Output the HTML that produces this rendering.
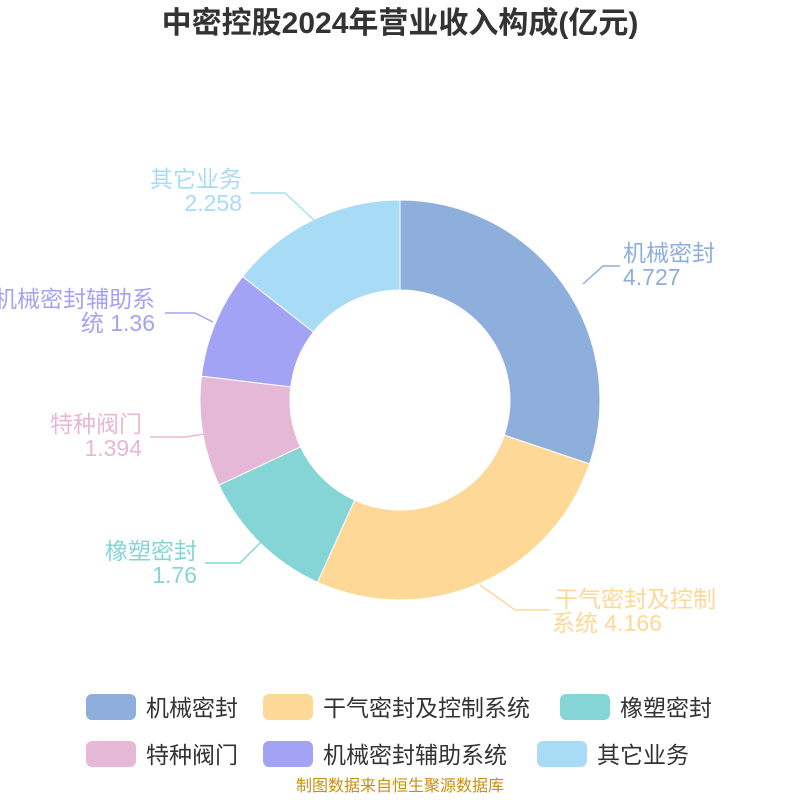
<!DOCTYPE html>
<html><head><meta charset="utf-8"><style>
body{margin:0;background:#fff;}
svg{display:block;font-family:"Liberation Sans","Noto Sans CJK SC",sans-serif;}
</style></head><body>
<svg id="s" width="800" height="800" viewBox="0 0 800 800">
<text x="400" y="33" text-anchor="middle" font-size="30" font-weight="bold" fill="#333">中密控股2024年营业收入构成(亿元)</text>
<g id="pie"></g>
<g fill="none" stroke-width="1.5">
<polyline points="583,284 603,266 620,266" stroke="#8eaedb"/>
<polyline points="480,585 515,610 550,610" stroke="#fdd897"/>
<polyline points="263,540 240,563 205,563" stroke="#85d5d7"/>
<polyline points="218,432 185,437 150,437" stroke="#e6b8d7"/>
<polyline points="213,322 195,313 165,313" stroke="#a3a3f5"/>
<polyline points="314,220 285,193 250,193" stroke="#a8dcf6"/>
</g>
<g font-size="23">
<text x="623" y="261" fill="#8eaedb">机械密封</text><text x="623" y="285" fill="#8eaedb">4.727</text>
<text x="555" y="607" fill="#fdd897">干气密封及控制</text><text x="552" y="631" fill="#fdd897">系统 4.166</text>
<text x="197" y="559" text-anchor="end" fill="#85d5d7">橡塑密封</text><text x="197" y="583" text-anchor="end" fill="#85d5d7">1.76</text>
<text x="142" y="432" text-anchor="end" fill="#e6b8d7">特种阀门</text><text x="142" y="456" text-anchor="end" fill="#e6b8d7">1.394</text>
<text x="155" y="307" text-anchor="end" fill="#a3a3f5">机械密封辅助系</text><text x="155" y="331" text-anchor="end" fill="#a3a3f5">统 1.36</text>
<text x="242" y="187" text-anchor="end" fill="#a8dcf6">其它业务</text><text x="242" y="211" text-anchor="end" fill="#a8dcf6">2.258</text>
</g>
<g font-size="23" fill="#333">
<rect x="86" y="694" width="50" height="26" rx="6" fill="#8eaedb"/><text x="146" y="716">机械密封</text>
<rect x="263" y="694" width="50" height="26" rx="6" fill="#fdd897"/><text x="323" y="716">干气密封及控制系统</text>
<rect x="560" y="694" width="50" height="26" rx="6" fill="#85d5d7"/><text x="620" y="716">橡塑密封</text>
<rect x="86" y="741" width="50" height="26" rx="6" fill="#e6b8d7"/><text x="146" y="763">特种阀门</text>
<rect x="263" y="741" width="50" height="26" rx="6" fill="#a3a3f5"/><text x="323" y="763">机械密封辅助系统</text>
<rect x="537" y="741" width="50" height="26" rx="6" fill="#a8dcf6"/><text x="597" y="763">其它业务</text>
</g>
<text x="400" y="791" text-anchor="middle" font-size="16" fill="#c8900f">制图数据来自恒生聚源数据库</text>
</svg>
<script>
var v=[4.727,4.166,1.76,1.394,1.36,2.258],c=["#8eaedb","#fdd897","#85d5d7","#e6b8d7","#a3a3f5","#a8dcf6"];
var t=v.reduce((a,b)=>a+b),a0=0,R=200,r=110,cx=400,cy=400,h="";
function p(a,rr){return (cx+rr*Math.sin(a)).toFixed(2)+","+(cy-rr*Math.cos(a)).toFixed(2);}
v.forEach(function(x,i){var a1=a0+x/t*2*Math.PI,l=(a1-a0)>Math.PI?1:0;
h+='<path fill="'+c[i]+'" stroke="#fff" stroke-width="1" d="M'+p(a0,R)+' A'+R+','+R+' 0 '+l+' 1 '+p(a1,R)+' L'+p(a1,r)+' A'+r+','+r+' 0 '+l+' 0 '+p(a0,r)+' Z"/>';a0=a1;});
document.getElementById("pie").innerHTML=h;
</script>
</body></html>
